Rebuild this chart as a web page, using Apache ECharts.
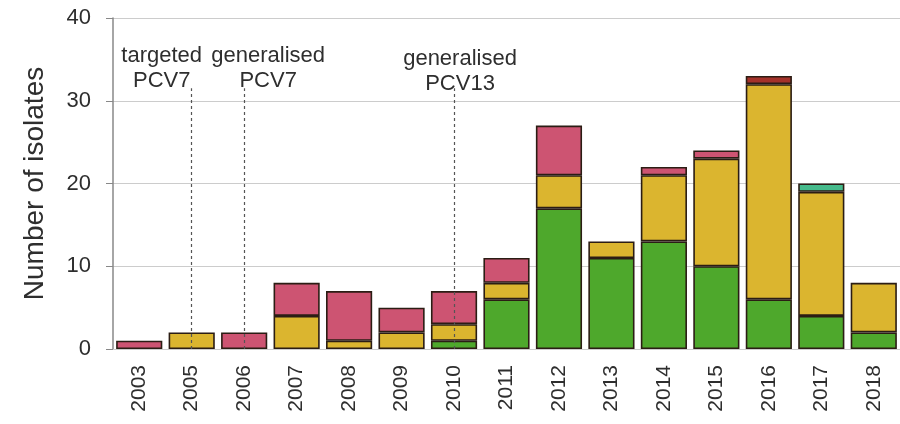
<!DOCTYPE html>
<html>
<head>
<meta charset="utf-8">
<script src="https://cdn.jsdelivr.net/npm/echarts@6/dist/echarts.min.js"></script>
<style>
  html, body { margin: 0; padding: 0; background: #fff; }
  #chart { width: 900px; height: 424px; }
</style>
</head>
<body>
<div id="chart"></div>
<script>
var years = ['2003', '2005', '2006', '2007', '2008', '2009', '2010', '2011',
             '2012', '2013', '2014', '2015', '2016', '2017', '2018'];
// stacked segments, bottom to top ('-' = none)
var greenVals  = ['-', '-', '-', '-', '-', '-', 1, 6, 17, 11, 13, 10, 6, 4, 2];
var yellowVals = ['-', 2, '-', 4, 1, 2, 2, 2, 4, 2, 8, 13, 26, 15, 6];
var pinkVals   = [1, '-', 2, 4, 6, 3, 4, 3, 6, '-', 1, 1, '-', '-', '-'];
var darkVals   = ['-', '-', '-', '-', '-', '-', '-', '-', '-', '-', '-', '-', 1, '-', '-'];
var tealVals   = ['-', '-', '-', '-', '-', '-', '-', '-', '-', '-', '-', '-', '-', 1, '-'];
var yTicks = [0, 10, 20, 30, 40];

// vaccine introduction markers
var vaccineYears = ['2005', '2006', '2010'];
var vaccineLabels = ['targeted\nPCV7', 'generalised\nPCV7', 'generalised\nPCV13'];
var vaccineLineTop = 31.5;

var font = 'Liberation Sans, Arial, sans-serif';
var border = { borderColor: '#2b1d14', borderWidth: 1.6 };

function makeBar(name, data, color) {
    return {
        name: name,
        type: 'bar',
        stack: 'total',
        data: data,
        barCategoryGap: '12%',
        itemStyle: Object.assign({ color: color }, border)
    };
}

var series = [
    makeBar('green', greenVals, '#4ea82c'),
    makeBar('yellow', yellowVals, '#dbb52f'),
    makeBar('pink', pinkVals, '#cd5472'),
    makeBar('darkred', darkVals, '#a5322a'),
    makeBar('teal', tealVals, '#46ba8b')
];

var lineData = [];
for (var i = 0; i < vaccineYears.length; i++) {
    lineData.push([{ coord: [vaccineYears[i], 0] }, { coord: [vaccineYears[i], vaccineLineTop] }]);
}
var labelOffsets = [[-30, 2], [24, 2], [6, 5]];
var pointData = [];
for (var j = 0; j < vaccineYears.length; j++) {
    pointData.push({
        coord: [vaccineYears[j], 34.1],
        value: vaccineLabels[j],
        label: { offset: labelOffsets[j] }
    });
}

series.push({
    type: 'line',
    data: [],
    silent: true,
    markLine: {
        silent: true,
        symbol: 'none',
        label: { show: false },
        lineStyle: { type: [3, 3], color: '#555', width: 1.2 },
        data: lineData
    },
    markPoint: {
        silent: true,
        symbol: 'circle',
        symbolSize: 0,
        label: {
            show: true,
            position: 'inside',
            formatter: function (p) { return p.value; },
            color: '#2e2e2e',
            fontSize: 22,
            lineHeight: 25,
            fontFamily: font,
            align: 'center'
        },
        data: pointData
    }
});

var myChart = echarts.init(document.getElementById('chart'));
var option = {
    backgroundColor: '#fff',
    animation: false,
    grid: { left: 113, top: 18, width: 789, bottom: 75 },
    xAxis: {
        type: 'category',
        data: years,
        axisLine: { show: true, lineStyle: { color: '#ccc' } },
        axisTick: { show: false },
        axisLabel: {
            rotate: 90,
            color: '#2e2e2e',
            fontSize: 21,
            fontFamily: font,
            margin: 16
        }
    },
    yAxis: {
        type: 'value',
        min: yTicks[0],
        max: yTicks[yTicks.length - 1],
        interval: 10,
        name: 'Number of isolates',
        nameLocation: 'middle',
        nameGap: 64,
        nameTextStyle: { color: '#2e2e2e', fontSize: 28, fontFamily: font },
        axisLine: { show: true, lineStyle: { color: '#888', width: 1.5 } },
        axisTick: { show: true, length: 7, lineStyle: { color: '#888' } },
        axisLabel: {
            color: '#2e2e2e',
            fontSize: 22,
            fontFamily: font,
            margin: 22
        },
        splitLine: { show: true, lineStyle: { color: '#ccc', width: 1.2 } }
    },
    series: series
};
myChart.setOption(option);
</script>
</body>
</html>
